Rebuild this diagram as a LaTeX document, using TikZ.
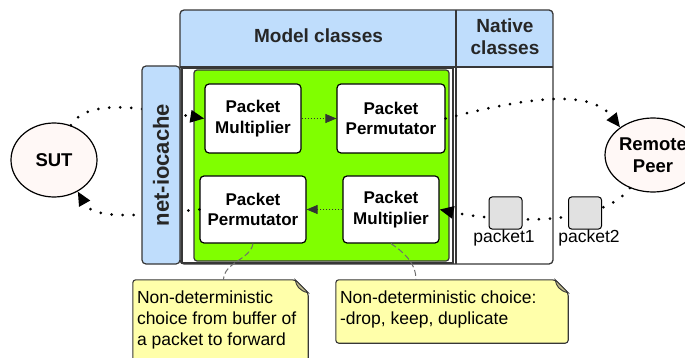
\documentclass[tikz,border=0pt]{standalone}
\usepackage{fontspec}
\setmainfont{Liberation Sans}
\usetikzlibrary{arrows.meta,shapes.geometric,calc}
\pgfdeclarelayer{bg}
\pgfsetlayers{bg,main}
\definecolor{hdrblue}{RGB}{191,221,252}
\definecolor{enginegreen}{RGB}{128,255,0}
\definecolor{framegray}{RGB}{55,55,55}
\definecolor{peerfill}{RGB}{255,248,246}
\definecolor{noteyellow}{RGB}{255,255,170}
\definecolor{notefold}{RGB}{190,186,140}
\definecolor{pktgray}{RGB}{225,225,225}
\definecolor{linkgray}{RGB}{110,110,110}
\begin{document}
\begin{tikzpicture}[x=1pt,y=-1pt,
  frameline/.style={draw=framegray,line width=1.3pt},
  hdrtext/.style={font=\fontsize{19}{22.5}\selectfont\bfseries,align=center,text=black!85},
  procbox/.style={draw=black,line width=1.2pt,fill=white,rounded corners=4pt,
    minimum width=96pt,minimum height=69pt,align=center,inner sep=0pt,
    font=\fontsize{17}{20.5}\selectfont\bfseries},
  endpoint/.style={ellipse,draw=black,line width=1.2pt,fill=peerfill,align=center,inner sep=0pt,
    font=\fontsize{18.5}{22.5}\selectfont\bfseries},
  pktbox/.style={draw=black,line width=1pt,fill=pktgray,rounded corners=3pt,
    minimum width=33pt,minimum height=32pt,inner sep=0pt},
  pktlabel/.style={font=\fontsize{17.5}{20}\selectfont,inner sep=0pt},
  notearea/.style={minimum width=#1,inner sep=0pt},
  noteshape/.style={fill=noteyellow,draw=framegray,line width=1.1pt,rounded corners=3pt},
  notetext/.style={font=\fontsize{17.5}{21}\selectfont,align=left,inner sep=0pt,anchor=north west},
  flow/.style={line width=3pt,dash pattern=on 0pt off 11pt,line cap=round,
    -{Triangle[length=14pt,width=12pt]}},
  shortflow/.style={line width=0.9pt,dash pattern=on 1pt off 2pt,draw=black!80,
    -{Triangle[length=11pt,width=9pt]}},
  notelink/.style={draw=linkgray,line width=1pt,dash pattern=on 6pt off 3pt}
]
\useasboundingbox (0,0) rectangle (685,358);

% class frame with its two header cells
\begin{scope}
  \clip[rounded corners=4pt] (180,10) rectangle (553,264);
  \fill[hdrblue] (180,10) rectangle (553,67);
\end{scope}
\node[hdrtext] (modelhdr) at (318.5,36) {Model classes};
\node[hdrtext] (nativehdr) at (505,36.5) {Native\\classes};
\draw[frameline] (180,67) -- (553,67);
\draw[frameline] (456,10) -- (456,264);
\draw[frameline] (182,68) rectangle (453,263);
\draw[frameline,rounded corners=4pt] (180,10) rectangle (553,264);

% green engine area
\node[draw=framegray,line width=1.2pt,fill=enginegreen,rounded corners=3pt,
      minimum width=255pt,minimum height=191pt,inner sep=0pt] (engine) at (321.5,165.5) {};

% processing stages
\node[procbox] (mult1) at (253,118.5) {Packet\\Multiplier};
\node[procbox,minimum width=108pt] (perm1) at (391,118.5) {Packet\\Permutator};
\node[procbox,minimum width=106pt,minimum height=67pt] (perm2) at (253,209.5) {Packet\\Permutator};
\node[procbox,minimum height=67pt] (mult2) at (391,209.5) {Packet\\Multiplier};

% end points
\node[endpoint,minimum width=86pt,minimum height=74pt] (sut) at (54,160) {SUT};
\node[endpoint,minimum width=90pt,minimum height=74pt] (peer) at (653,155) {Remote\\Peer};

% packet flow
\draw[flow] (sut.64) .. controls (88,96) and (150,110) .. (mult1.west);
\draw[shortflow] (mult1.east) -- (perm1.west);
\draw[flow] (perm1.east) .. controls (525,98) and (590,88) .. (peer.140);
\draw[flow] (peer.-125) .. controls (600,228) and (500,222) .. (mult2.east);
\draw[shortflow] (mult2.west) -- (perm2.east);
\draw[flow] (perm2.west) .. controls (150,214) and (95,222) .. (sut.-53);

% net-iocache bar
\node[draw=framegray,line width=1.2pt,fill=hdrblue,rounded corners=4pt,rotate=90,
      minimum width=198pt,minimum height=38pt,inner sep=0pt,
      font=\fontsize{22}{24}\selectfont\bfseries,text=black!85] (cache) at (161,165) {net-iocache};

% packets in flight
\node[pktbox] (pk1) at (505.5,213) {};
\node[pktbox] (pk2) at (585,213) {};
\node[pktlabel] (pk1lbl) at (504,237.5) {packet1};
\node[pktlabel] (pk2lbl) at (589,237.5) {packet2};

% notes
\node[notearea=175pt,minimum height=86pt] (note1) at (220.5,323) {};
\node[notearea=232pt,minimum height=63pt] (note2) at (452,311.5) {};
\begin{pgfonlayer}{bg}
  \foreach \n in {note1,note2}{
    \filldraw[noteshape] (\n.south west) -- (\n.north west) -- ([xshift=-13pt]\n.north east)
      -- ([yshift=-13pt]\n.north east) -- (\n.south east) -- cycle;
    \filldraw[fill=notefold,draw=framegray,line width=0.9pt]
      ([xshift=-13pt]\n.north east) .. controls ([xshift=-12pt,yshift=-6pt]\n.north east)
      and ([xshift=-9pt,yshift=-11pt]\n.north east) .. ([yshift=-13pt]\n.north east) -- cycle;
  }
\end{pgfonlayer}
\node[notetext] (note1txt) at ([xshift=4pt,yshift=-10.5pt]note1.north west)
  {Non-deterministic\\choice from buffer of\\a packet to forward};
\node[notetext] (note2txt) at ([xshift=4pt,yshift=-11pt]note2.north west)
  {Non-deterministic choice:\\-drop, keep, duplicate};

\draw[notelink] (perm2.south) .. controls (250,260) and (224,262) .. ([xshift=3pt]note1.north);
\draw[notelink] (mult2.south) .. controls (402,251) and (416,262) .. ([xshift=-36pt]note2.north);
\end{tikzpicture}
\end{document}
